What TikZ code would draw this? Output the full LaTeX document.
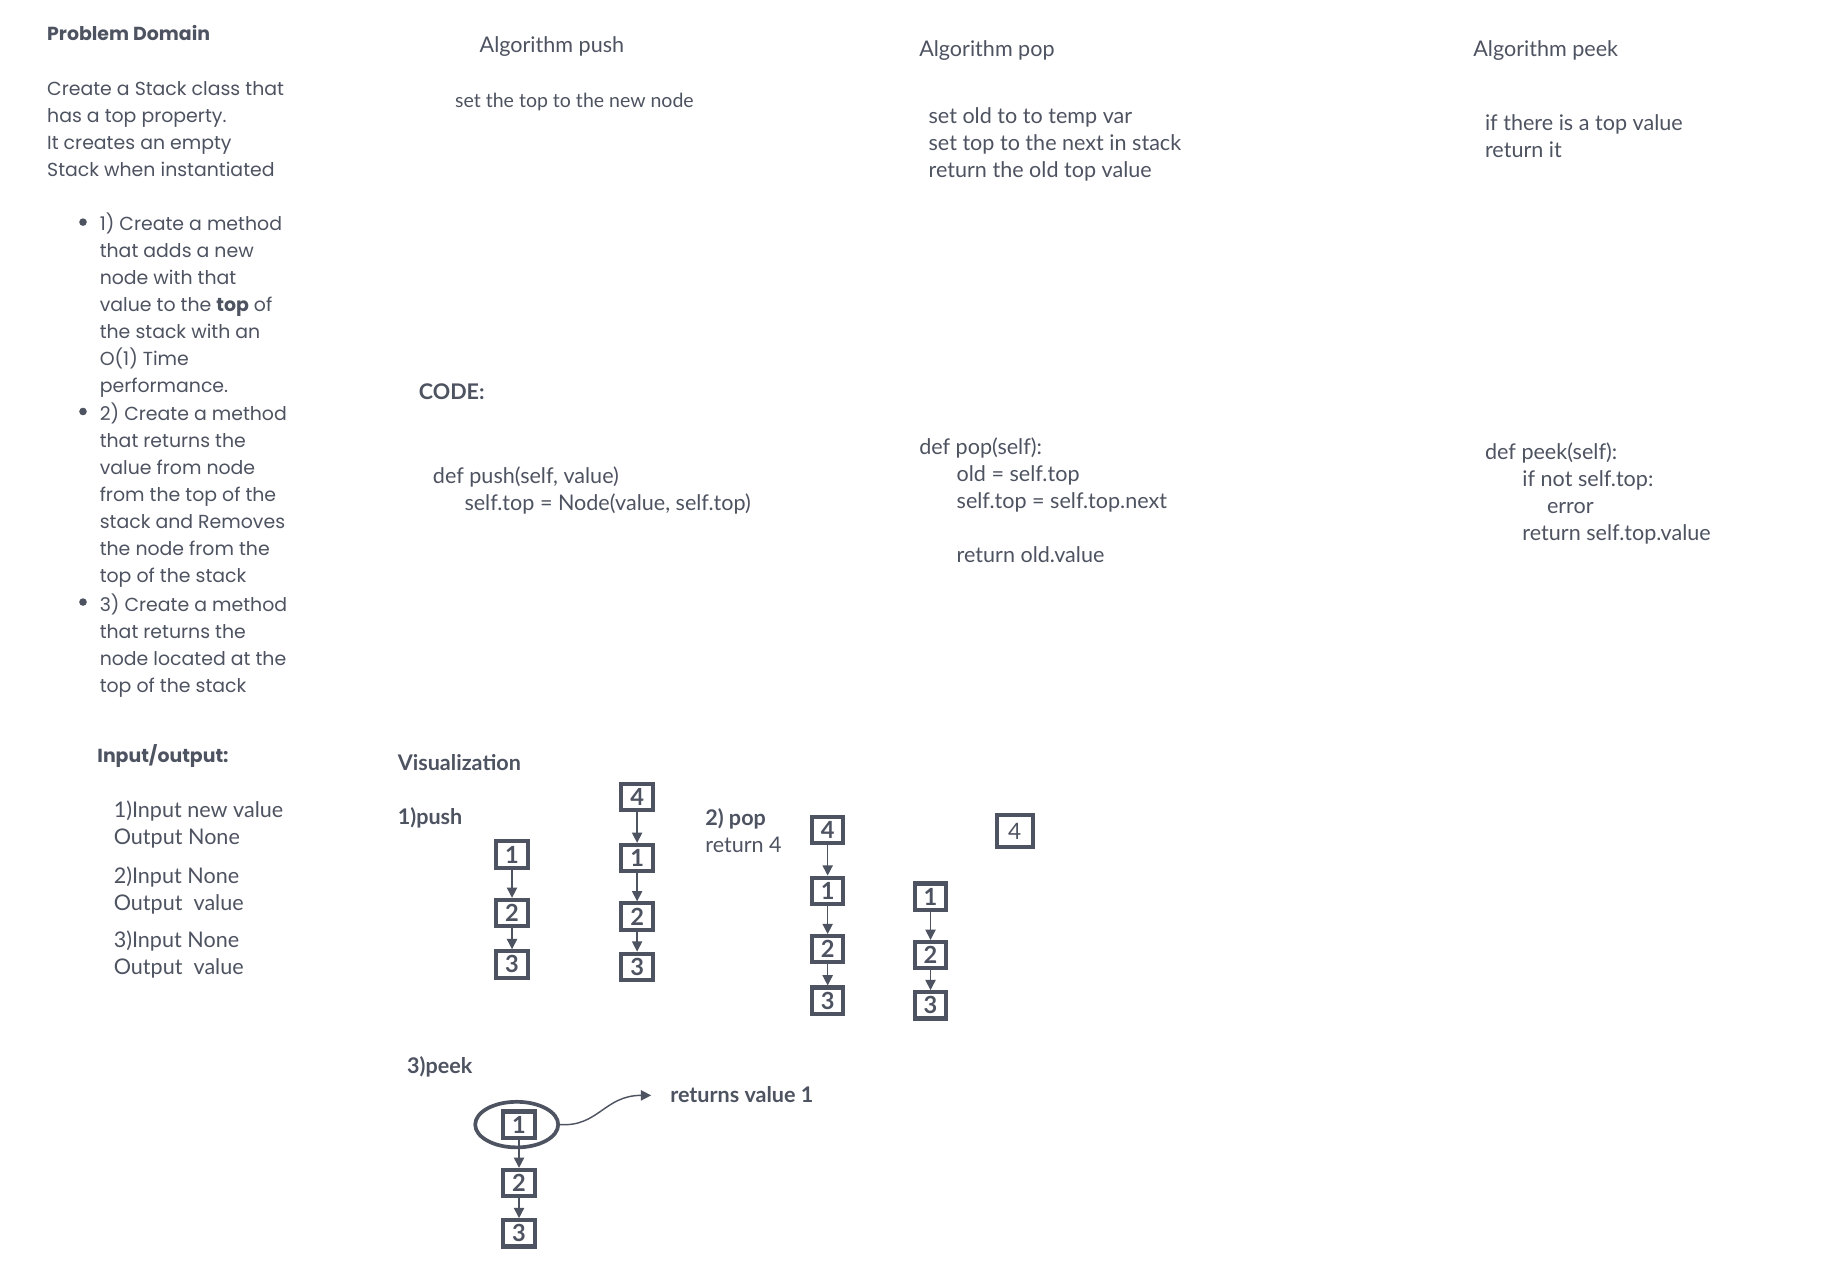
\documentclass[tikz,border=0pt]{standalone}
\usepackage{fontspec}
\setmainfont{Lato}
\newfontfamily\geofont{Poppins}
\usetikzlibrary{arrows.meta,shapes.geometric,positioning}
\definecolor{ink}{RGB}{78,83,97}

\begin{document}
\begin{tikzpicture}[x=0.02cm,y=-0.02cm,
  txt/.style={anchor=base west,inner sep=0pt,align=left,text=ink,font=\fontsize{10.5}{13.15}\selectfont},
  bold/.style={txt,font=\bfseries\fontsize{10.5}{13.15}\selectfont},
  small/.style={txt,font=\fontsize{9.5}{13.15}\selectfont},
  gtxt/.style={txt,font=\geofont\fontsize{9.2}{13.15}\selectfont},
  gbold/.style={txt,font=\geofont\bfseries\fontsize{9.2}{13.15}\selectfont},
  dot/.style={circle,fill=ink,inner sep=0pt,minimum size=0.13cm},
  box/.style={draw=ink,line width=2pt,minimum width=0.54cm,minimum height=0.45cm,inner sep=0pt,text=ink,font=\bfseries\fontsize{11.5}{12}\selectfont},
  link/.style={draw=ink,line width=0.7pt,-{Triangle[length=5pt,width=5pt]}}]
  \path[fill=white] (0,0) rectangle (1568,1096);
  \useasboundingbox (0,0) rectangle (1568,1096);

  % problem domain (multi-line texts sit on the baseline of their last line)
  \node[gbold] (pd) at (40,35) {Problem Domain};
  \node[gtxt] (intro) at (40,151) {Create a Stack class that\\has a top property.\\It creates an empty\\Stack when instantiated};
  \node[dot] (d1) at (71,190) {};
  \node[dot] (d2) at (71,352) {};
  \node[dot] (d3) at (71,515) {};
  \node[gtxt] (it1) at (85,336) {1) Create a method\\that adds a new\\node with that\\value to the \textbf{top} of\\the stack with an\\O(1) Time\\performance.};
  \node[gtxt] (it2) at (85,498) {2) Create a method\\that returns the\\value from node\\from the top of the\\stack and Removes\\the node from the\\top of the stack};
  \node[gtxt] (it3) at (85,592) {3) Create a method\\that returns the\\node located at the\\top of the stack};

  % input / output
  \node[gbold] (io) at (83,652) {Input/output:};
  \node[txt] (io1) at (97,722) {1)Input new value\\Output None};
  \node[txt] (io2) at (97,779) {2)Input None\\Output\ \ value};
  \node[txt] (io3) at (97,834) {3)Input None\\Output\ \ value};

  % algorithms
  \node[txt] (apush) at (410,45) {Algorithm push};
  \node[small] (spush) at (389,92) {set the top to the new node};
  \node[txt] (apop) at (786,48) {Algorithm pop};
  \node[txt] (spop) at (794,152) {set old to to temp var\\set top to the next in stack\\return the old top value};
  \node[txt] (apeek) at (1260,48) {Algorithm peek};
  \node[txt] (speek) at (1270,135) {if there is a top value\\return it};

  % code
  \node[bold] (code) at (358,342) {CODE:};
  \node[txt] (cpush) at (370,437) {def push(self, value)\\\hspace*{0.54cm}self.top = Node(value, self.top)};
  \node[txt] (cpop) at (786,481) {def pop(self):\\\hspace*{0.64cm}old = self.top\\\hspace*{0.64cm}self.top = self.top.next\\~\\\hspace*{0.64cm}return old.value};
  \node[txt] (cpeek) at (1270,462) {def peek(self):\\\hspace*{0.64cm}if not self.top:\\\hspace*{1.06cm}error\\\hspace*{0.64cm}return self.top.value};

  % visualization
  \node[bold] (viz) at (340,659) {Visualization};
  \node[bold] (lpush) at (340,705) {1)push};
  \node[txt] (lpop) at (603,729) {\textbf{2) pop}\\return 4};
  \node[bold] (lpeek) at (348,918) {3)peek};
  \node[bold] (lret) at (573,943) {returns value 1};

  % push
  \node[box] (pa1) at (438,731) {1};
  \node[box] (pa2) at (438,781) {2};
  \node[box] (pa3) at (438,825) {3};
  \node[box] (pb4) at (545,682) {4};
  \node[box] (pb1) at (545,734) {1};
  \node[box] (pb2) at (545,784) {2};
  \node[box] (pb3) at (545,827) {3};
  \draw[link] (pa1) -- (pa2);
  \draw[link] (pa2) -- (pa3);
  \draw[link] (pb4) -- (pb1);
  \draw[link] (pb1) -- (pb2);
  \draw[link] (pb2) -- (pb3);

  % pop
  \node[box] (qa4) at (708,710) {4};
  \node[box] (qa1) at (708,762) {1};
  \node[box] (qa2) at (708,812) {2};
  \node[box] (qa3) at (708,856) {3};
  \node[box] (qb1) at (796,767) {1};
  \node[box] (qb2) at (796,817) {2};
  \node[box] (qb3) at (796,860) {3};
  \node[box,minimum width=0.62cm,minimum height=0.54cm,font=\fontsize{11}{12}\selectfont] (qo4) at (868,711) {4};
  \draw[link] (qa4) -- (qa1);
  \draw[link] (qa1) -- (qa2);
  \draw[link] (qa2) -- (qa3);
  \draw[link] (qb1) -- (qb2);
  \draw[link] (qb2) -- (qb3);

  % peek
  \node[draw=ink,line width=1.8pt,ellipse,minimum width=1.42cm,minimum height=0.78cm] (sel) at (442,962) {};
  \node[box] (ka1) at (444,962) {1};
  \node[box] (ka2) at (444,1012) {2};
  \node[box] (ka3) at (444,1055) {3};
  \draw[link] (ka1) -- (ka2);
  \draw[link] (ka2) -- (ka3);
  \coordinate (tip) at (557,937);
  \draw[link] (sel.east) .. controls (512,964) and (517,937) .. (tip);
\end{tikzpicture}
\end{document}
